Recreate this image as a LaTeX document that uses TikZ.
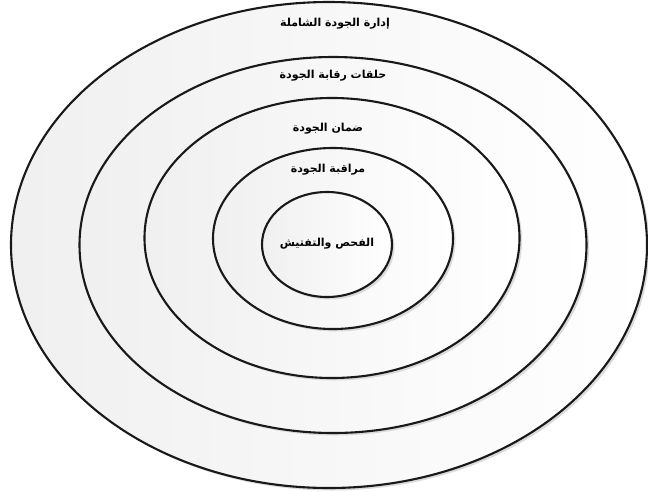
\documentclass[tikz,border=0pt]{standalone}
\usepackage{fontspec}
\newfontfamily\arabicfont[Script=Arabic]{DejaVu Sans}
\TeXXeTstate=1
\usetikzlibrary{shapes.geometric,shadows}
\begin{document}
\begin{tikzpicture}[x=1pt,y=-1pt,
  ring/.style={ellipse,draw=black!90,line width=2.1pt,inner sep=0pt,
    left color=black!6,right color=white,
    drop shadow={shadow xshift=2.5pt,shadow yshift=-2.5pt,fill=black!14,opacity=1}},
  lbl/.style={font=\arabicfont\bfseries\fontsize{11}{13}\selectfont,inner sep=1pt}]
\useasboundingbox (0,0) rectangle (648,491);
\node[ring,minimum width=636pt,minimum height=486pt] (r1) at (329,245) {};
\node[ring,minimum width=507pt,minimum height=376pt] (r2) at (333,245) {};
\node[ring,minimum width=375pt,minimum height=280pt] (r3) at (332,238) {};
\node[ring,minimum width=240pt,minimum height=181pt] (r4) at (333,238.5) {};
\node[ring,minimum width=130pt,minimum height=105pt] (r5) at (327,244.5) {};
\node[lbl] (t1) at (335,24) {\beginR إدارة الجودة الشاملة\endR};
\node[lbl] (t2) at (333,76) {\beginR حلقات رقابة الجودة\endR};
\node[lbl] (t3) at (328,129) {\beginR ضمان الجودة\endR};
\node[lbl] (t4) at (328,170) {\beginR مراقبة الجودة\endR};
\node[lbl] (t5) at (327,244) {\beginR الفحص والتفتيش\endR};
\end{tikzpicture}
\end{document}
